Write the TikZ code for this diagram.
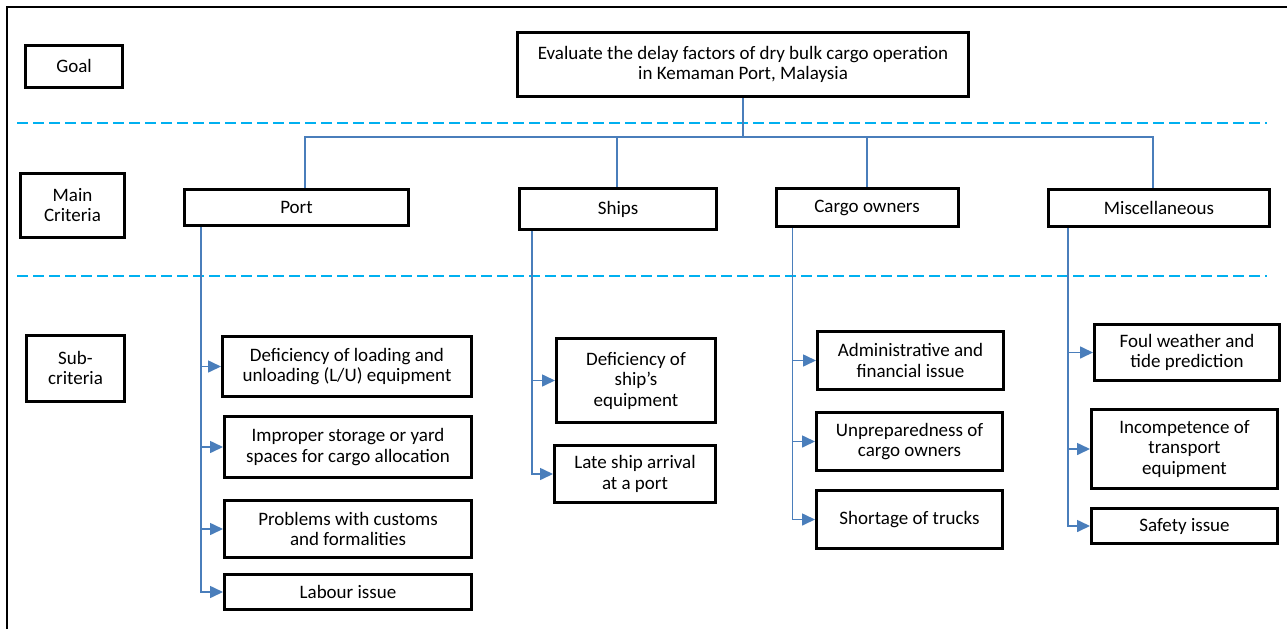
\documentclass[tikz,border=0pt]{standalone}
\usepackage{fontspec}
\setmainfont{Carlito}
\usetikzlibrary{arrows.meta}
\definecolor{connblue}{RGB}{74,126,187}
\definecolor{dashblue}{RGB}{0,176,240}
\tikzset{
  box/.style={draw=black, line width=3pt, inner sep=0pt, align=center,
    font=\fontsize{19}{20.5}\selectfont},
  conn/.style={draw=connblue, line width=1.6pt},
  arr/.style={conn, -{Triangle[length=13pt,width=12pt]}},
  sep/.style={draw=dashblue, line width=2pt, dash pattern=on 11pt off 5pt},
  frame/.style={draw=black, line width=2pt}
}
\begin{document}
\begin{tikzpicture}[x=1pt,y=-1pt]
\useasboundingbox (0,0) rectangle (1287,629);
% frame
\coordinate (f1) at (7,629);
\coordinate (f2) at (7,7);
\coordinate (f3) at (1287,7);
\draw[frame] (f1) -- (f2) -- (f3);
% level separators
\coordinate (d1a) at (17,123);
\coordinate (d1b) at (1267,123);
\coordinate (d2a) at (17,276);
\coordinate (d2b) at (1267,276);
\draw[sep] (d1a) -- (d1b);
\draw[sep] (d2a) -- (d2b);
% level labels
\node[box, minimum width=97pt, minimum height=42pt] (goallbl) at (74,66) {Goal};
\node[box, minimum width=104pt, minimum height=64pt] (mainlbl) at (72.5,205) {Main\\Criteria};
\node[box, minimum width=98pt, minimum height=66pt] (sublbl) at (75.5,368) {Sub-\\criteria};
% goal
\node[box, minimum width=451pt, minimum height=64pt] (goal) at (743,64.5)
  {Evaluate the delay factors of dry bulk cargo operation\\in Kemaman Port, Malaysia};
% main criteria
\node[box, minimum width=224pt, minimum height=36pt] (port) at (296.5,207.5) {Port};
\node[box, minimum width=197pt, minimum height=41pt] (ships) at (618,209) {Ships};
\node[box, minimum width=182pt, minimum height=38pt] (cargo) at (867,207.5) {Cargo owners};
\node[box, minimum width=221pt, minimum height=37pt] (misc) at (1159,208) {Miscellaneous};
% sub-criteria: port
\node[box, minimum width=249pt, minimum height=60pt] (p1) at (347,366.5) {Deficiency of loading and\\unloading (L/U) equipment};
\node[box, minimum width=247pt, minimum height=61pt] (p2) at (348,447) {Improper storage or yard\\spaces for cargo allocation};
\node[box, minimum width=247pt, minimum height=57pt] (p3) at (348,529) {Problems with customs\\and formalities};
\node[box, minimum width=247pt, minimum height=35pt] (p4) at (348,592) {Labour issue};
% ships
\node[box, minimum width=159pt, minimum height=84pt] (s1) at (636,380.5) {Deficiency of\\ship’s\\equipment};
\node[box, minimum width=161pt, minimum height=57pt] (s2) at (635,474) {Late ship arrival\\at a port};
% cargo owners
\node[box, minimum width=186pt, minimum height=58pt] (c1) at (910.5,360.5) {Administrative and\\financial issue};
\node[box, minimum width=186pt, minimum height=58pt] (c2) at (909.5,441.5) {Unpreparedness of\\cargo owners};
\node[box, minimum width=186pt, minimum height=58pt] (c3) at (909.5,519.5) {Shortage of trucks};
% miscellaneous
\node[box, minimum width=185pt, minimum height=56pt] (m1) at (1187,352.5) {Foul weather and\\tide prediction};
\node[box, minimum width=186pt, minimum height=79pt] (m2) at (1184.5,449) {Incompetence of\\transport\\equipment};
\node[box, minimum width=186pt, minimum height=35pt] (m3) at (1184.5,526) {Safety issue};
% goal to main criteria
\coordinate (bus) at (743,137);
\draw[conn] (goal.south) -- (bus);
\draw[conn] ([xshift=8.5pt]port.north) |- ([xshift=-6pt]misc.north |- bus) -- ([xshift=-6pt]misc.north);
\draw[conn] ([xshift=-1pt]ships.north) -- ([xshift=-1pt]ships.north |- bus);
\draw[conn] (cargo.north) -- (cargo.north |- bus);
% trunks
\coordinate (tp) at ([xshift=18pt]port.south west);
\coordinate (ts) at ([xshift=14pt]ships.south west);
\coordinate (tc) at ([xshift=18pt]cargo.south west);
\coordinate (tm) at ([xshift=21pt]misc.south west);
\foreach \b in {p1,p2,p3,p4} { \draw[arr] (tp) |- (\b.west); }
\foreach \b in {s1,s2} { \draw[arr] (ts) |- (\b.west); }
\foreach \b in {c1,c2,c3} { \draw[arr] (tc) |- (\b.west); }
\foreach \b in {m1,m2,m3} { \draw[arr] (tm) |- (\b.west); }
\end{tikzpicture}
\end{document}
